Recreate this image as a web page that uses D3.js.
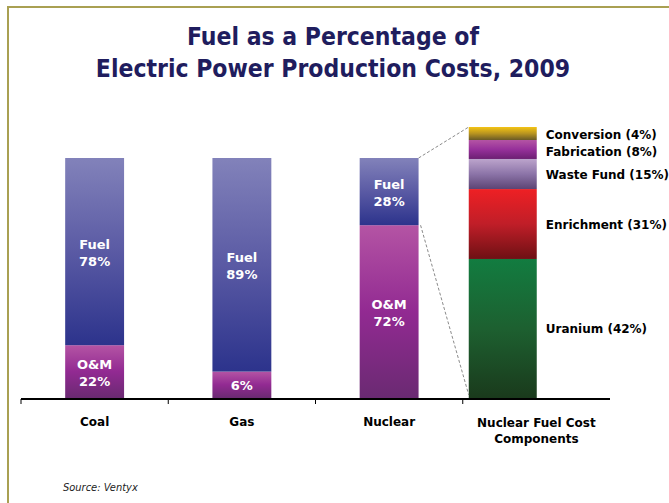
<!DOCTYPE html>
<html>
<head>
<meta charset="utf-8">
<script src="https://cdn.jsdelivr.net/npm/d3@7"></script>
<style>
  body { margin: 0; background: #fff; }
  svg { display: block; }
  text { font-family: "DejaVu Sans", Verdana, sans-serif; }
</style>
</head>
<body>
<div id="chart"></div>
<script>
// categories and shares (percent of production cost)
const categories = ["Coal", "Gas", "Nuclear", "Nuclear Fuel Cost Components"];
const fuelShare = [78, 89, 28];
const omShare = [22, 11, 72];            // as drawn
const fuelLabels = ["78%", "89%", "28%"];
const omLabels = ["22%", "6%", "72%"];
const omNamed = [true, false, true];

// nuclear fuel breakdown, bottom to top
const compNames = ["Uranium", "Enrichment", "Waste Fund", "Fabrication", "Conversion"];
const compLabelPct = [42, 31, 15, 8, 4];
const compShare = [51.3, 25.8, 11.1, 7.0, 4.8]; // as drawn

const W = 669, H = 503;

const svg = d3.select("#chart").append("svg")
    .attr("width", W)
    .attr("height", H);

// gradients
const defs = svg.append("defs");
const grads = {
    fuel: ["#8282ba", "#5a5aa4", "#2c338c"],
    om: ["#b454a4", "#922a92", "#6a2a72"],
    Conversion: ["#f4c414", "#b89420", "#6a5a26"],
    Fabrication: ["#b454a4", "#96309a", "#6c1f72"],
    "Waste Fund": ["#bca4cc", "#8c74a8", "#5c4474"],
    Enrichment: ["#ee2024", "#c01e28", "#6e1014"],
    Uranium: ["#127c40", "#1d6030", "#1a3a1c"]
};
Object.entries(grads).forEach(([k, c], i) => {
    let g = defs.append("linearGradient")
        .attr("id", "g" + i)
        .attr("x1", 0).attr("y1", 0).attr("x2", 0).attr("y2", 1);
    g.append("stop").attr("offset", "0%").attr("stop-color", c[0]);
    g.append("stop").attr("offset", "50%").attr("stop-color", c[1]);
    g.append("stop").attr("offset", "100%").attr("stop-color", c[2]);
    grads[k].id = "url(#g" + i + ")";
});

// frame
svg.append("line").attr("x1", 7).attr("x2", W).attr("y1", 7).attr("y2", 7)
    .attr("stroke", "#a9a052").attr("stroke-width", 2);
svg.append("line").attr("x1", 8).attr("x2", 8).attr("y1", 6).attr("y2", H)
    .attr("stroke", "#a9a052").attr("stroke-width", 2);

// title
const title = svg.append("text")
    .attr("text-anchor", "middle")
    .attr("fill", "#1f1d5e")
    .style("font-family", "'DejaVu Sans Condensed', 'DejaVu Sans', sans-serif")
    .style("font-weight", "bold")
    .style("font-size", "24.5px");
title.append("tspan").attr("x", 333).attr("y", 45).text("Fuel as a Percentage of");
title.append("tspan").attr("x", 333).attr("y", 77).text("Electric Power Production Costs, 2009");

// scales
const x = d3.scaleBand().domain(categories).range([21, 610]);
const y = d3.scaleLinear().domain([0, 100]).range([398, 158]);
const yc = d3.scaleLinear().domain([0, 100]).range([398, 127]);
const bw = x.bandwidth() * 0.4;

// main stacked bars
const bars = categories.slice(0, 3).map((c, i) => ({
    cat: c, fuel: fuelShare[i], om: omShare[i],
    fuelLabel: fuelLabels[i], omLabel: omLabels[i], named: omNamed[i]
}));

const g = svg.append("g");
bars.forEach(d => {
    const x0 = x(d.cat) + (x.bandwidth() - bw) / 2;
    g.append("rect")
        .attr("x", x0).attr("width", bw)
        .attr("y", y(d.om)).attr("height", y(0) - y(d.om))
        .attr("fill", grads.om.id);
    g.append("rect")
        .attr("x", x0).attr("width", bw)
        .attr("y", y(d.om + d.fuel)).attr("height", y(d.om) - y(d.om + d.fuel))
        .attr("fill", grads.fuel.id);

    const cx = x0 + bw / 2;
    const fm = (y(d.om) + y(d.om + d.fuel)) / 2;
    const t1 = g.append("text").attr("text-anchor", "middle").attr("fill", "#fff")
        .style("font-weight", "bold").style("font-size", "13px");
    t1.append("tspan").attr("x", cx).attr("y", fm - 3).text("Fuel");
    t1.append("tspan").attr("x", cx).attr("y", fm + 14).text(d.fuelLabel);

    const om = (y(0) + y(d.om)) / 2;
    const t2 = g.append("text").attr("text-anchor", "middle").attr("fill", "#fff")
        .style("font-weight", "bold").style("font-size", "13px");
    if (d.named) {
        t2.append("tspan").attr("x", cx).attr("y", om - 3).text("O&M");
        t2.append("tspan").attr("x", cx).attr("y", om + 14).text(d.omLabel);
    } else {
        t2.append("tspan").attr("x", cx).attr("y", om + 5).text(d.omLabel);
    }
});

// nuclear fuel components bar
const cx0 = x(categories[3]) + 6;
const cw = 68;
let acc = 0;
const comps = compNames.map((n, i) => {
    const o = {name: n, pct: compLabelPct[i], y0: acc, y1: acc + compShare[i]};
    acc += compShare[i];
    return o;
});
g.selectAll(".comp").data(comps).enter().append("rect")
    .attr("class", "comp")
    .attr("x", cx0).attr("width", cw)
    .attr("y", d => yc(d.y1))
    .attr("height", d => yc(d.y0) - yc(d.y1))
    .attr("fill", d => grads[d.name].id);
g.selectAll(".clab").data(comps).enter().append("text")
    .attr("class", "clab")
    .attr("x", cx0 + cw + 9)
    .attr("y", d => (yc(d.y0) + yc(d.y1)) / 2 + (d.name === "Fabrication" ? 7 : 5))
    .style("font-weight", "bold").style("font-size", "12px")
    .attr("fill", "#000")
    .text(d => `${d.name} (${d.pct}%)`);

// dashed connectors
const nx1 = x("Nuclear") + (x.bandwidth() + bw) / 2;
svg.append("line")
    .attr("x1", nx1).attr("y1", y(100)).attr("x2", cx0).attr("y2", yc(100))
    .attr("stroke", "#8a8a8a").attr("stroke-dasharray", "3,2");
svg.append("line")
    .attr("x1", nx1 + 2).attr("y1", y(omShare[2])).attr("x2", cx0).attr("y2", yc(0) - 3)
    .attr("stroke", "#8a8a8a").attr("stroke-dasharray", "3,2");

// axis
svg.append("line").attr("x1", 21).attr("x2", 610).attr("y1", 399).attr("y2", 399)
    .attr("stroke", "#000").attr("stroke-width", 2);
svg.selectAll(".tick").data(categories).enter().append("line")
    .attr("x1", d => x(d)).attr("x2", d => x(d))
    .attr("y1", 399).attr("y2", 404)
    .attr("stroke", "#000").attr("stroke-width", 1);

// category labels
categories.forEach((c, i) => {
    const cx = x(c) + x.bandwidth() / 2;
    const t = svg.append("text").attr("text-anchor", "middle")
        .style("font-weight", "bold").style("font-size", "12px").attr("fill", "#000");
    if (i < 3) {
        t.append("tspan").attr("x", cx).attr("y", 426).text(c);
    } else {
        t.append("tspan").attr("x", cx).attr("y", 427).text("Nuclear Fuel Cost");
        t.append("tspan").attr("x", cx).attr("y", 443).text("Components");
    }
});

// source
svg.append("text")
    .attr("x", 63).attr("y", 491)
    .style("font-family", "'DejaVu Sans Condensed', 'DejaVu Sans', sans-serif")
    .style("font-style", "italic").style("font-size", "11px")
    .attr("fill", "#222")
    .text("Source: Ventyx");
</script>
</body>
</html>
